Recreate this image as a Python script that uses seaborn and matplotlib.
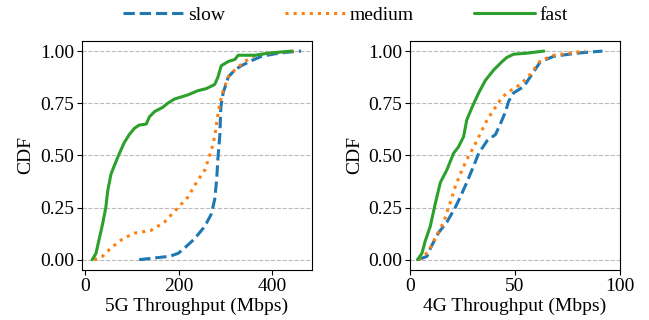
import pandas as pd
import seaborn as sns
import matplotlib.pyplot as plt

# 5G throughput CDF points (Mbps, cumulative fraction)
g5_slow_x = [116, 181, 199, 213, 234, 256, 270, 277, 281, 284, 288, 290, 295, 306, 320, 334, 356, 377, 406, 434, 461]
g5_slow_y = [0.0, 0.016, 0.03, 0.056, 0.10, 0.16, 0.22, 0.29, 0.38, 0.49, 0.60, 0.73, 0.80, 0.876, 0.91, 0.93, 0.955, 0.975, 0.987, 0.995, 1.0]
g5_medium_x = [20, 38, 56, 81, 106, 141, 170, 199, 220, 238, 256, 270, 277, 283, 288, 295, 306, 320, 341, 363, 399, 445]
g5_medium_y = [0.0, 0.016, 0.056, 0.10, 0.127, 0.14, 0.18, 0.25, 0.30, 0.37, 0.43, 0.525, 0.59, 0.685, 0.75, 0.81, 0.876, 0.91, 0.95, 0.98, 0.99, 1.0]
g5_fast_x = [16, 24, 31, 38, 45, 49, 56, 63, 74, 84, 95, 106, 116, 131, 138, 149, 166, 177, 191, 220, 241, 259, 277, 284, 291, 306, 320, 327, 363, 391, 441]
g5_fast_y = [0.0, 0.03, 0.10, 0.17, 0.25, 0.33, 0.41, 0.45, 0.51, 0.56, 0.60, 0.63, 0.645, 0.65, 0.685, 0.71, 0.73, 0.75, 0.77, 0.79, 0.81, 0.82, 0.84, 0.876, 0.93, 0.95, 0.96, 0.98, 0.98, 0.99, 1.0]

# 4G throughput CDF points
g4_slow_x = [4, 8, 10.4, 13.6, 17.5, 21.5, 23.9, 27, 30.3, 32.7, 36.7, 40.7, 43, 45.5, 47, 49.4, 54.2, 58.2, 62.2, 68.6, 79.7, 91.7]
g4_slow_y = [0.0, 0.016, 0.07, 0.13, 0.18, 0.25, 0.30, 0.37, 0.45, 0.51, 0.57, 0.60, 0.65, 0.71, 0.76, 0.80, 0.83, 0.89, 0.95, 0.975, 0.99, 1.0]
g4_medium_x = [4, 7.2, 9.6, 12.8, 16, 19, 21.5, 23.9, 27, 30.3, 33.5, 36.7, 40, 43.9, 47.8, 52.6, 57.4, 62.2, 68.6, 79.7, 83.7]
g4_medium_y = [0.0, 0.024, 0.056, 0.12, 0.18, 0.27, 0.35, 0.41, 0.48, 0.54, 0.605, 0.67, 0.72, 0.78, 0.81, 0.84, 0.89, 0.955, 0.98, 0.995, 1.0]
g4_fast_x = [3.5, 5.6, 7.2, 9.6, 12, 14.4, 17.5, 20.7, 23, 25.5, 27, 29.5, 32.7, 35.9, 39.9, 43.9, 46.2, 49.4, 55.8, 63.8]
g4_fast_y = [0.0, 0.03, 0.09, 0.16, 0.27, 0.37, 0.43, 0.51, 0.54, 0.59, 0.67, 0.73, 0.80, 0.86, 0.91, 0.95, 0.97, 0.985, 0.99, 1.0]

labels = ['slow', 'medium', 'fast']
colors = ['#1f77b4', '#ff7f0e', '#2ca02c']
styles = ['--', ':', '-']

sns.set_style('ticks', {'axes.edgecolor': 'black', 'xtick.color': 'black', 'ytick.color': 'black',
                        'text.color': 'black', 'axes.labelcolor': 'black'})
plt.rcParams['font.family'] = ['Liberation Serif', 'DejaVu Serif']
plt.rcParams['font.size'] = 14

fig = plt.figure(figsize=(6.49, 3.2), dpi=100)
ax1 = fig.add_axes([0.126, 0.156, 0.354, 0.717])
ax2 = fig.add_axes([0.632, 0.156, 0.323, 0.717])

panels = [
    (ax1, [(g5_slow_x, g5_slow_y), (g5_medium_x, g5_medium_y), (g5_fast_x, g5_fast_y)], '5G Throughput (Mbps)'),
    (ax2, [(g4_slow_x, g4_slow_y), (g4_medium_x, g4_medium_y), (g4_fast_x, g4_fast_y)], '4G Throughput (Mbps)'),
]

for ax, series, xlabel in panels:
    for (xs, ys), lab, c, ls in zip(series, labels, colors, styles):
        df = pd.DataFrame({'x': xs, 'y': ys})
        sns.lineplot(data=df, x='x', y='y', ax=ax, color=c, linestyle=ls,
                     linewidth=2.2, label=lab, estimator=None, sort=False)
    ax.set_xlabel(xlabel, fontsize=14, labelpad=2)
    ax.set_ylabel('CDF', fontsize=14, labelpad=4)
    ax.set_yticks([0, 0.25, 0.5, 0.75, 1.0])
    ax.set_yticklabels(['0.00', '0.25', '0.50', '0.75', '1.00'])
    ax.yaxis.grid(True, linestyle='--', color='#bbbbbb', linewidth=0.8)
    ax.tick_params(labelsize=14, color='black', pad=2)
    ax.get_legend().remove()

ax1.set_xticks([0, 200, 400])
ax2.set_xlim(0, 100)
ax2.set_xticks([0, 50, 100])

handles, labs = ax1.get_legend_handles_labels()
fig.legend(handles, labs, loc='center', bbox_to_anchor=(0.532, 0.953), ncol=3,
           frameon=False, fontsize=14, handlelength=3.1, handletextpad=0.25,
           columnspacing=3.1)

plt.savefig('out.png', dpi=100)
